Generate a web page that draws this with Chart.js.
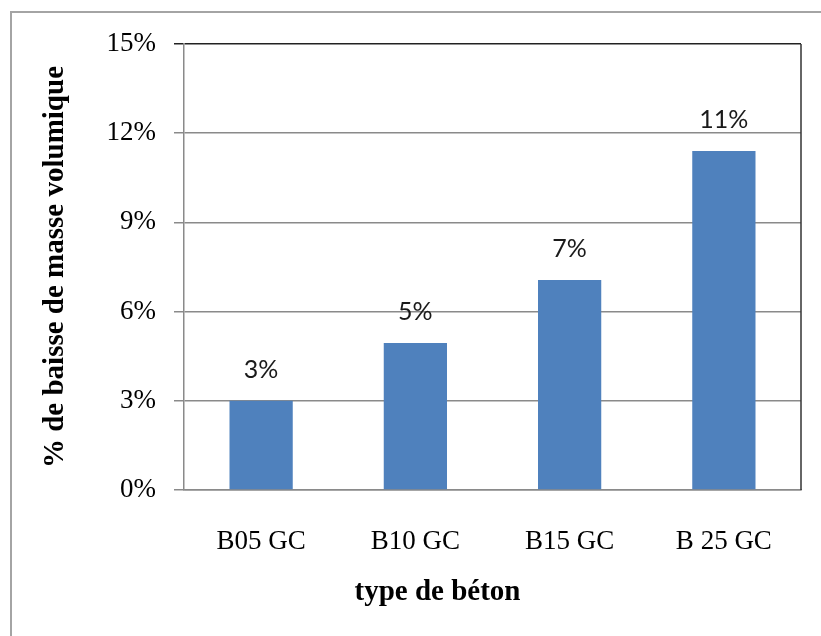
<!DOCTYPE html>
<html>
<head>
<meta charset="utf-8">
<script src="https://cdn.jsdelivr.net/npm/chart.js@4"></script>
<style>
body{margin:0;background:#fff;}
#wrap{position:relative;width:821px;height:636px;}
#frame{position:absolute;left:10px;top:11px;width:830px;height:650px;border-left:2px solid #a4a4a4;border-top:2px solid #a4a4a4;}
canvas{position:absolute;left:0;top:0;}
</style>
</head>
<body>
<div id="wrap">
<div id="frame"></div>
<canvas id="chart" width="821" height="636"></canvas>
</div>
<script>
// data
const categories = ["B05 GC", "B10 GC", "B15 GC", "B 25 GC"];
const baisse = [3.0, 4.94, 7.06, 11.4];
const yTicks = [0, 3, 6, 9, 12, 15];

const serif = "'Liberation Serif', 'DejaVu Serif', serif";

// value labels above bars + right border + x title
const extras = {
id: "extras",
afterDatasetsDraw(chart){
let ctx = chart.ctx;
let meta = chart.getDatasetMeta(0);
ctx.save();
ctx.font = "25px Lato, 'Liberation Sans', sans-serif";
ctx.fillStyle = "#1a1a1a";
ctx.textAlign = "center";
ctx.textBaseline = "middle";
meta.data.forEach((bar, i) => {
ctx.fillText(Math.round(baisse[i]) + "%", bar.x, bar.y - 31);
});
ctx.restore();
},
afterDraw(chart){
let ctx = chart.ctx;
let a = chart.chartArea;
ctx.save();
ctx.strokeStyle = "#333";
ctx.lineWidth = 1.5;
ctx.beginPath();
ctx.moveTo(a.right, a.top);
ctx.lineTo(a.right, a.bottom);
ctx.stroke();
ctx.font = "bold 29px " + serif;
ctx.fillStyle = "#000";
ctx.textAlign = "center";
ctx.textBaseline = "middle";
ctx.fillText("type de béton", (a.left + a.right) / 2 - 55, a.bottom + 103);
ctx.restore();
}
};

new Chart(document.getElementById("chart"), {
type: "bar",
data: {
labels: categories,
datasets: [{
data: baisse,
backgroundColor: "#4f81bd",
borderWidth: 0,
categoryPercentage: 1,
barPercentage: 0.41
}]
},
options: {
responsive: false,
animation: false,
layout: { padding: { top: 44, right: 20, left: 0, bottom: 0 } },
plugins: { legend: { display: false }, tooltip: { enabled: false } },
scales: {
x: {
grid: { display: false },
border: { display: true, color: "#8a8a8a", width: 1.5 },
ticks: { color: "#000", font: { family: serif, size: 27 }, padding: 28 },
afterFit(scale){ scale.height = 146; }
},
y: {
min: 0,
max: 15,
afterBuildTicks(scale){ scale.ticks = yTicks.map(v => ({ value: v })); },
grid: {
color: ctx => ctx.tick && ctx.tick.value === 15 ? "#222" : "#8a8a8a",
lineWidth: 1.5,
tickLength: 10
},
border: { display: true, color: "#8a8a8a", width: 1.5 },
ticks: {
color: "#000",
font: { family: serif, size: 27 },
padding: 18,
callback: v => v + "%"
},
title: {
display: true,
text: "% de baisse de masse volumique",
color: "#000",
font: { family: serif, size: 29, weight: "bold" },
padding: { top: 38, bottom: 0 }
},
afterFit(scale){ scale.width = 184; }
}
}
},
plugins: [extras]
});
</script>
</body>
</html>
